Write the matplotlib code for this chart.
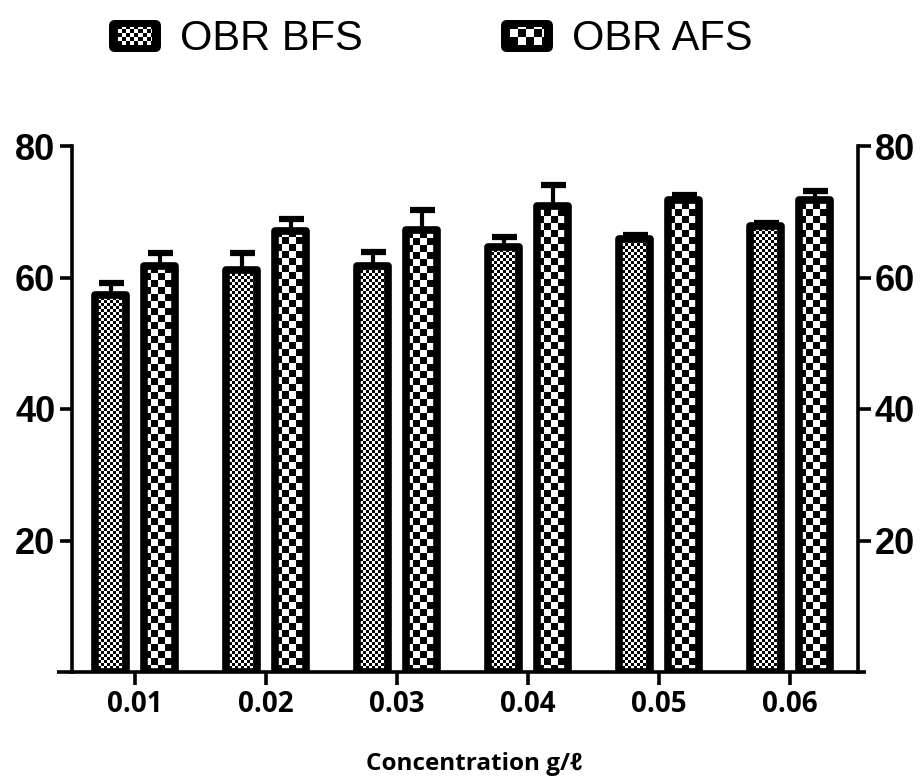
import numpy as np
import matplotlib
matplotlib.use("Agg")
import matplotlib.pyplot as plt
from matplotlib.patches import FancyBboxPatch

# data
conc = ["0.01", "0.02", "0.03", "0.04", "0.05", "0.06"]
bfs = [57.3, 61.1, 61.7, 64.6, 65.8, 67.8]
bfs_err = [1.8, 2.7, 2.2, 1.6, 0.6, 0.5]
afs = [61.7, 67.1, 67.2, 70.9, 71.8, 71.8]
afs_err = [2.0, 1.8, 3.1, 3.1, 0.8, 1.4]
series = ["OBR BFS", "OBR AFS"]
yticks = [20, 40, 60, 80]

W, H = 922, 778
fig = plt.figure(figsize=(W / 100, H / 100), dpi=100)
ax = fig.add_axes([72 / W, 1 - 672 / H, 786 / W, 526 / H])
xlim = (-0.481, 5.519)
ylim = (0, 80)
ax.set_xlim(*xlim)
ax.set_ylim(*ylim)

px_x = 786 / (xlim[1] - xlim[0])
px_y = 526 / (ylim[1] - ylim[0])


def checker(board_ax, x0, y0, w, h, sq_px, sx_scale, sy_scale, clip, z=2):
    sx = sq_px / sx_scale
    sy = sq_px / sy_scale
    nc = int(np.ceil(w / sx)) + 1
    nr = int(np.ceil(h / sy)) + 1
    board = np.add.outer(np.arange(nr), np.arange(nc)) % 2
    im = board_ax.imshow(board, cmap="gray", vmin=0, vmax=1, origin="lower",
                         extent=(x0, x0 + nc * sx, y0, y0 + nr * sy),
                         interpolation="nearest", aspect="auto", zorder=z)
    im.set_clip_path(clip)


x = np.arange(len(conc))
bw = 0.235
off = 0.187
lw = 5.5
sq = [3, 7]

for k, (vals, errs) in enumerate([(bfs, bfs_err), (afs, afs_err)]):
    pos = x + (-off if k == 0 else off)
    bars = ax.bar(pos, vals, width=bw, facecolor="none", edgecolor="black",
                  linewidth=lw, joinstyle="round", zorder=3)
    for b in bars:
        checker(ax, b.get_x(), 0, b.get_width(), b.get_height(), sq[k],
                px_x, px_y, b)
    ax.errorbar(pos, vals, yerr=[np.zeros(len(errs)), errs], fmt="none",
                ecolor="black", elinewidth=3, capsize=9, capthick=4.5, zorder=4)

ax.set_xlim(*xlim)
ax.set_ylim(*ylim)

# axis styling
for s in ["top", "bottom"]:
    ax.spines[s].set_visible(False)
for s in ["left", "right"]:
    ax.spines[s].set_linewidth(2.6)
ax.plot([xlim[0] - 15 / px_x, xlim[1] + 8 / px_x], [0, 0], color="black",
        lw=2.6, clip_on=False, zorder=5, solid_capstyle="butt")

ax.set_yticks(yticks)
ax.tick_params(axis="y", left=True, right=True, labelleft=True, labelright=True,
               direction="out", length=9, width=2.6, pad=3, labelsize=26)
for t in ax.get_yticklabels():
    t.set_fontweight("bold")
    t.set_fontfamily("Liberation Sans")

lab_font = ["Open Sans", "DejaVu Sans"]
ax.set_xticks(x)
ax.set_xticklabels(conc)
ax.tick_params(axis="x", direction="out", length=9, width=2.6, pad=4)
for t in ax.get_xticklabels():
    t.set_fontweight("bold")
    t.set_fontfamily(lab_font)
    t.set_fontsize(20)

fig.text(474 / W, 1 - 770 / H, "Concentration g/\u2113", ha="center", va="baseline",
         fontsize=17.5, fontweight="bold", family=lab_font)

# legend
sw_x = [107, 499]
txt_x = [180, 572]
for k in range(2):
    lax = fig.add_axes([sw_x[k] / W, 1 - 54 / H, 56 / W, 36 / H])
    lax.axis("off")
    inner = FancyBboxPatch((11, 9), 34, 18, boxstyle="square,pad=0",
                           facecolor="none", edgecolor="none")
    lax.add_patch(inner)
    lax.add_patch(FancyBboxPatch((2, 2), 52, 32, boxstyle="round,pad=0,rounding_size=6",
                                 facecolor="black", edgecolor="none", zorder=1))
    checker(lax, 11, 9, 34, 18, sq[k] + 1, 1, 1, inner, z=2)
    lax.set_xlim(0, 56)
    lax.set_ylim(0, 36)
    fig.text(txt_x[k] / W, 1 - 50 / H, series[k], fontsize=30,
             family="Liberation Sans", va="baseline", ha="left")

fig.savefig("out.png", dpi=100, facecolor="white")
